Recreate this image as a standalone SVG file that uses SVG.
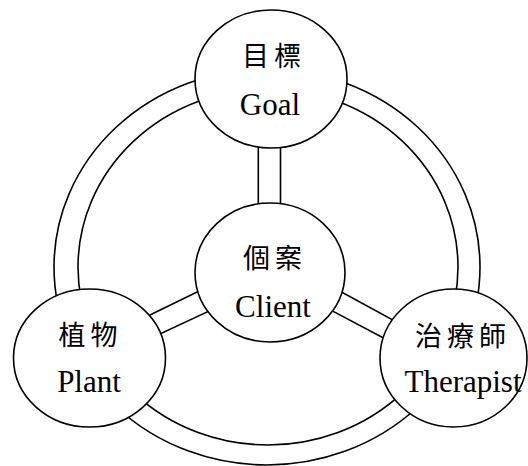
<svg xmlns="http://www.w3.org/2000/svg" width="528" height="466" viewBox="0 0 528 466">
  <style>
    .ring { fill: none; stroke: #000; stroke-width: 1.6; }
    .link { stroke: #000; stroke-width: 1.6; fill: none; }
    .node { fill: #fff; stroke: #000; stroke-width: 1.6; }
    .zh { font-family: "Noto Sans CJK TC", "Noto Sans CJK SC", serif; font-size: 27px; letter-spacing: 5px; fill: #000; text-anchor: middle; }
    .en { font-family: "Liberation Serif", "Times New Roman", serif; font-size: 31px; fill: #000; text-anchor: middle; }
  </style>
  <rect width="528" height="466" fill="#fff"/>
  <g id="connectors">
    <ellipse class="ring" cx="267" cy="267" rx="213" ry="198"/>
    <ellipse class="ring" cx="268" cy="267" rx="190" ry="178"/>
    <line class="link" x1="258.3" y1="130" x2="258.3" y2="220"/>
    <line class="link" x1="280.5" y1="130" x2="280.5" y2="220"/>
    <line class="link" x1="130" y1="324.8" x2="215" y2="283.2"/>
    <line class="link" x1="140" y1="343.3" x2="225" y2="303.6"/>
    <line class="link" x1="330" y1="285.8" x2="410" y2="329.4"/>
    <line class="link" x1="320" y1="304.4" x2="400" y2="346.7"/>
  </g>
  <g id="goal">
    <ellipse class="node" cx="271" cy="79" rx="76" ry="69"/>
    <text class="zh" x="274" y="66">目標</text>
    <text class="en" x="270" y="115">Goal</text>
  </g>
  <g id="client">
    <ellipse class="node" cx="270" cy="272.5" rx="75" ry="69.5"/>
    <text class="zh" x="275" y="268">個案</text>
    <text class="en" x="273" y="317">Client</text>
  </g>
  <g id="plant">
    <ellipse class="node" cx="89.5" cy="358" rx="76" ry="69"/>
    <text class="zh" x="90.5" y="345">植物</text>
    <text class="en" x="89" y="392">Plant</text>
  </g>
  <g id="therapist">
    <ellipse class="node" cx="453.5" cy="358" rx="73.5" ry="69"/>
    <text class="zh" x="463" y="346">治療師</text>
    <text class="en" x="463" y="392">Therapist</text>
  </g>
</svg>
